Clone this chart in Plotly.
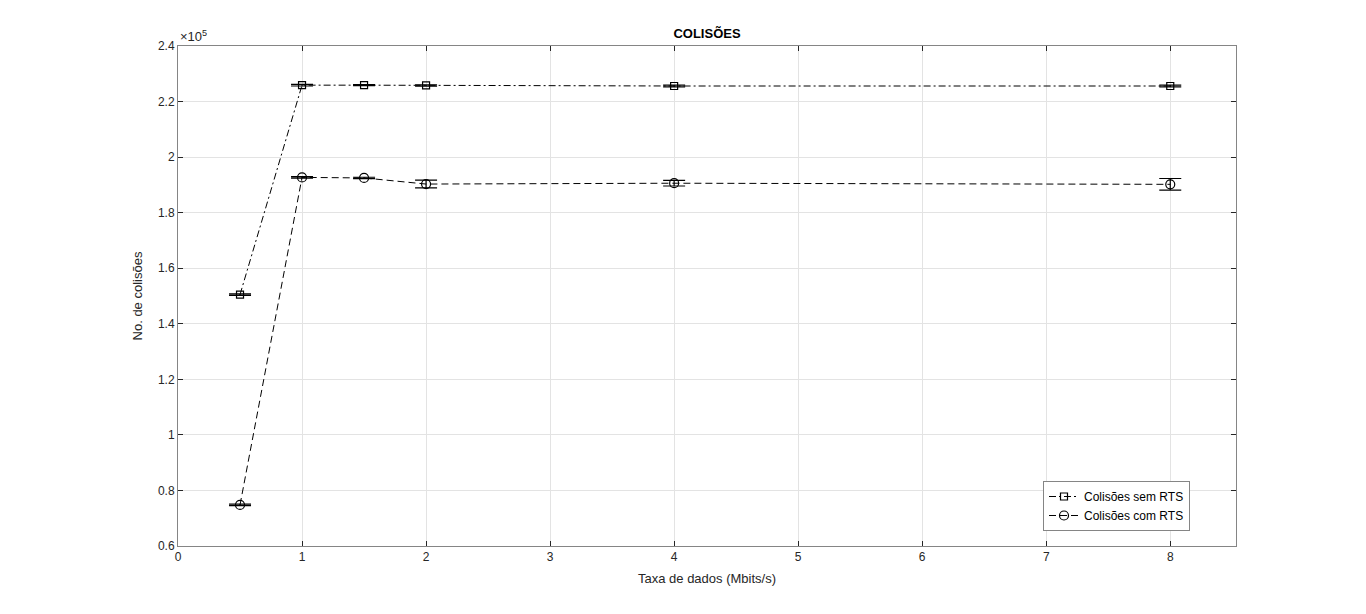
import plotly.graph_objects as go

taxa = [0.5, 1, 1.5, 2, 4, 8]
sem_rts = [150500, 225900, 225900, 225800, 225600, 225600]
sem_rts_err = [250, 300, 200, 250, 300, 350]
com_rts = [74800, 192700, 192500, 190300, 190600, 190200]
com_rts_err = [250, 300, 250, 1400, 1000, 2100]

yticks = [60000, 80000, 100000, 120000, 140000, 160000, 180000, 200000, 220000, 240000]
yticktext = ["0.6", "0.8", "1", "1.2", "1.4", "1.6", "1.8", "2", "2.2", "2.4"]
xticks = [0, 1, 2, 3, 4, 5, 6, 7, 8]

FONT = "Liberation Sans, Arial"

fig = go.Figure()
fig.add_trace(go.Scatter(
    x=taxa, y=sem_rts, name="Colisões sem RTS", mode="lines+markers",
    line=dict(color="black", width=1, dash="7px,3px,2px,3px"),
    marker=dict(symbol="square-open", size=7, color="black", line=dict(width=1.2)),
    error_y=dict(type="data", array=sem_rts_err, color="black", thickness=1.2, width=11),
))
fig.add_trace(go.Scatter(
    x=taxa, y=com_rts, name="Colisões com RTS", mode="lines+markers",
    line=dict(color="black", width=1, dash="7px,4px"),
    marker=dict(symbol="circle-open", size=9, color="black", line=dict(width=1.2)),
    error_y=dict(type="data", array=com_rts_err, color="black", thickness=1.2, width=11),
))

axis_common = dict(
    showline=True, linecolor="#858585", linewidth=1, mirror="ticks",
    ticks="inside", ticklen=5, tickcolor="#262626", tickwidth=1,
    showgrid=True, gridcolor="#e3e3e3", gridwidth=1, zeroline=False,
    tickfont=dict(family=FONT, size=12, color="#262626"),
)

# page body has an 8px margin, so the figure is offset by 8px
W, H = 1358, 606
L, R, T, B = 170, 130, 38, 68

fig.update_layout(
    width=W, height=H,
    margin=dict(l=L, r=R, t=T, b=B),
    paper_bgcolor="white", plot_bgcolor="white",
    title=dict(text="<b>COLISÕES</b>", x=(L + (W - R)) / 2 / W, xanchor="center",
               y=1 - 25 / H, yanchor="middle",
               font=dict(family=FONT, size=13, color="black")),
    xaxis=dict(range=[0, 8.53], tickvals=xticks,
               title=dict(text="Taxa de dados (Mbits/s)", standoff=10,
                          font=dict(family=FONT, size=13, color="#262626")),
               **axis_common),
    yaxis=dict(range=[60000, 240000], tickvals=yticks, ticktext=yticktext,
               title=dict(text="No. de colisões", standoff=12,
                          font=dict(family=FONT, size=13, color="#262626")),
               **axis_common),
    legend=dict(x=(1043 - 178) / 1058, y=(546 - 481) / 500, xanchor="left", yanchor="top",
                bgcolor="white", bordercolor="#858585", borderwidth=1,
                font=dict(family=FONT, size=12, color="black"),
                tracegroupgap=0, itemwidth=30),
    showlegend=True,
    annotations=[dict(text="×10<sup>5</sup>", xref="paper", yref="paper", x=0, y=1,
                      xanchor="left", yanchor="bottom", showarrow=False, yshift=0,
                      font=dict(family=FONT, size=13, color="#262626"))],
)

fig.write_html("out.html")
